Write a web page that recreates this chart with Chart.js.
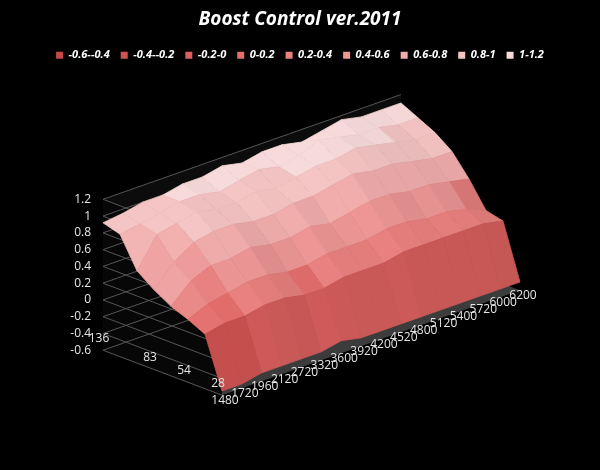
<!DOCTYPE html>
<html><head><meta charset="utf-8">
<script src="https://cdn.jsdelivr.net/npm/chart.js@4"></script>
<style>html,body{margin:0;background:#000}#w{width:600px;height:470px}</style>
</head><body><div id="w"><canvas id="c"></canvas></div>
<script>
const rpmLabels = [1480,1720,1960,2120,2720,3320,3600,3920,4200,4520,4800,5120,5400,5720,6000,6200];
const loadLabels = [136,118,100,83,68,54,41,28];
const loadShown = [136,83,54,28];
const valueTicks = [-0.6,-0.4,-0.2,0,0.2,0.4,0.6,0.8,1,1.2];
const bandNames = ['-0.6--0.4','-0.4--0.2','-0.2-0','0-0.2','0.2-0.4','0.4-0.6','0.6-0.8','0.8-1','1-1.2'];
const bandColors = ['#c44a48','#d05452','#da605e','#e26e6c','#e8807e','#ed9695','#f1adac','#f4c4c3','#f7dad9'];
const row136 = [0.92,0.95,1.0,1.0,1.05,1.05,1.1,1.05,1.1,1.1,1.05,1.1,1.15,1.1,1.1,1.1];
const row118 = [0.86,0.9,0.95,1.0,1.0,0.95,1.0,1.05,1.0,1.05,1.15,1.1,1.05,1.05,1.0,1.0];
const row100 = [0.5,0.85,0.9,0.95,0.9,0.9,0.95,0.9,0.95,1.0,1.0,1.05,1.0,0.95,0.9,0.9];
const row83 = [0.35,0.6,0.75,0.8,0.8,0.75,0.75,0.8,0.8,0.85,0.9,0.85,0.85,0.8,0.75,0.75];
const row68 = [0.23,0.45,0.55,0.55,0.6,0.55,0.55,0.6,0.55,0.6,0.65,0.65,0.6,0.6,0.55,0.5];
const row54 = [0.15,0.25,0.3,0.35,0.35,0.3,0.3,0.35,0.35,0.35,0.4,0.4,0.35,0.35,0.3,0.2];
const row41 = [0.05,0.1,0.1,0.15,0.15,0.1,0.1,0.15,0.15,0.15,0.2,0.2,0.2,0.2,0.2,0.15];
const row28 = [-0.55,-0.55,-0.5,-0.5,-0.5,-0.5,-0.45,-0.5,-0.5,-0.5,-0.5,-0.5,-0.5,-0.5,-0.5,-0.5];
const rows = [row136,row118,row100,row83,row68,row54,row41,row28];

const P = {ox:103, oy:350, rx:298/15, ry:-105/15, dx:119/7, dy:45/7, vz:84, zmin:-0.6};
function proj(i,j,v){ return {x:P.ox+i*P.rx+j*P.dx, y:P.oy+i*P.ry+j*P.dy-(v-P.zmin)*P.vz}; }
function band(v){return Math.max(0,Math.min(8,Math.floor((v+0.6)/0.2)));}
function shade(hex,f){const n=parseInt(hex.slice(1),16);let r=n>>16,g=(n>>8)&255,b=n&255;
  const m=c=>Math.round(f>=0?c+(255-c)*f:c*(1+f));return `rgb(${m(r)},${m(g)},${m(b)})`;}

const pts=[];
rows.forEach((r,j)=>r.forEach((v,i)=>{const p=proj(i,j,v);pts.push({x:p.x,y:p.y});}));

const surf = {
  id:'surf',
  beforeDatasetsDraw(chart){
    const ctx=chart.ctx, sx=chart.scales.x, sy=chart.scales.y;
    const T=p=>[sx.getPixelForValue(p.x), sy.getPixelForValue(p.y)];
    const poly=(ps,fill,stroke,lw)=>{ctx.beginPath();ps.forEach((p,k)=>{const q=T(p);k?ctx.lineTo(q[0],q[1]):ctx.moveTo(q[0],q[1]);});ctx.closePath();if(fill){ctx.fillStyle=fill;ctx.fill();}if(stroke){ctx.strokeStyle=stroke;ctx.lineWidth=lw||1;ctx.stroke();}};
    const NI=rpmLabels.length-1, NJ=rows.length-1;
    ctx.save();
    poly([proj(0,0,-0.6),proj(NI,0,-0.6),proj(NI,NJ,-0.6),proj(0,NJ,-0.6)],'#3c3c3c');
    poly([proj(0,0,-0.6),proj(NI,0,-0.6),proj(NI,0,1.2),proj(0,0,1.2)],'#0c0c0c');
    poly([proj(0,0,-0.6),proj(0,NJ,-0.6),proj(0,NJ,1.2),proj(0,0,1.2)],'#070707');
    valueTicks.forEach(v=>{
      ctx.beginPath();
      let a=T(proj(0,NJ,v)),b=T(proj(0,0,v)),c=T(proj(NI,0,v));
      ctx.moveTo(a[0],a[1]);ctx.lineTo(b[0],b[1]);ctx.lineTo(c[0],c[1]);
      ctx.strokeStyle='#555';ctx.lineWidth=1;ctx.stroke();
    });
    for(let j=0;j<NJ;j++){
      for(let i=NI-1;i>=0;i--){
        const a=rows[j][i],b=rows[j][i+1],c=rows[j+1][i+1],d=rows[j+1][i];
        const avg=(a+b+c+d)/4;
        const sj=((a+b)-(c+d))/2, si=((b+c)-(a+d))/2;
        const f=Math.max(-0.18,Math.min(0.12,-sj*0.12+si*0.6));
        const col=shade(bandColors[band(avg)],f);
        poly([proj(i,j,a),proj(i+1,j,b),proj(i+1,j+1,c),proj(i,j+1,d)],col,col,0.8);
      }
    }
    ctx.fillStyle='#e6e6e6'; ctx.font='12px "Open Sans", sans-serif';
    ctx.textAlign='right'; ctx.textBaseline='middle';
    valueTicks.forEach(v=>{const q=T(proj(0,0,v));ctx.fillText(String(v),q[0]-12,q[1]);});
    ctx.textAlign='center';
    rpmLabels.forEach((r,i)=>{const q=T(proj(i,NJ,-0.6));ctx.fillText(String(r),q[0]+3,q[1]+5);});
    loadLabels.forEach((l,j)=>{ if(loadShown.includes(l)){const q=T(proj(0,j,-0.6));ctx.fillText(String(l),q[0]-4,q[1]-12);} });
    ctx.restore();
  }
};

new Chart(document.getElementById('c'),{
  type:'scatter',
  data:{datasets:[{data:pts,pointRadius:0,showLine:false}]},
  options:{
    responsive:true, maintainAspectRatio:false, animation:false,
    layout:{padding:0},
    scales:{
      x:{type:'linear',min:0,max:600,display:false},
      y:{type:'linear',min:70,max:470,reverse:true,display:false}
    },
    plugins:{
      tooltip:{enabled:false},
      title:{display:true,text:'Boost Control ver.2011',color:'#ffffff',
        font:{family:'"Open Sans", sans-serif',size:19,weight:'bold',style:'italic'},padding:{top:8,bottom:8}},
      legend:{display:true,position:'top',
        labels:{color:'#ffffff',boxWidth:7,boxHeight:7,padding:11,
          font:{family:'"Open Sans", sans-serif',size:11,weight:'bold',style:'italic'},
          generateLabels:()=>bandNames.map((n,k)=>({text:n,fillStyle:bandColors[k],strokeStyle:bandColors[k],lineWidth:0,fontColor:'#ffffff'}))},
        onClick:()=>{}}
    }
  },
  plugins:[surf, {id:'bg',beforeDraw(ch){ch.ctx.save();ch.ctx.fillStyle='#000';ch.ctx.fillRect(0,0,ch.width,ch.height);ch.ctx.restore();}}]
});
</script></body></html>
